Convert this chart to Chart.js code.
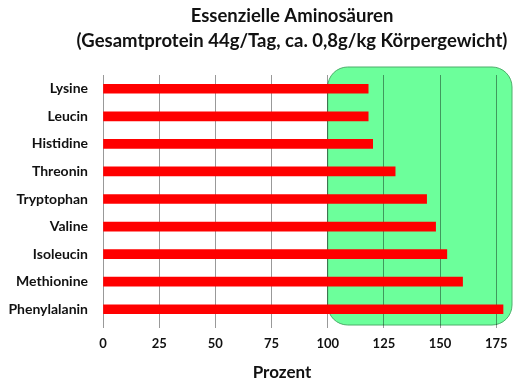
<!DOCTYPE html>
<html>
<head>
<meta charset="utf-8">
<script src="https://cdn.jsdelivr.net/npm/chart.js@4/dist/chart.umd.min.js"></script>
<style>
  body { margin: 0; background: #fff; }
  #wrap { width: 526px; height: 390px; }
</style>
</head>
<body>
<div id="wrap"><canvas id="chart"></canvas></div>
<script>
// Daten
const aminosaeuren = ["Lysine", "Leucin", "Histidine", "Threonin", "Tryptophan", "Valine", "Isoleucin", "Methionine", "Phenylalanin"];
const prozent = [118, 118, 120, 130, 144, 148, 153, 160, 178];
const xTicks = [0, 25, 50, 75, 100, 125, 150, 175];
const titel = ["Essenzielle Aminosäuren", "(Gesamtprotein 44g/Tag, ca. 0,8g/kg Körpergewicht)"];
const achsenTitel = "Prozent";
const zielBereichAb = 100;

const FONT = "Lato, 'Open Sans', sans-serif";

// grüner Bereich (>= 100%) hinter den Balken
const zielBereich = {
  id: "zielBereich",
  beforeDraw(chart) {
    const { ctx, chartArea, scales } = chart;
    const x0 = scales.x.getPixelForValue(zielBereichAb);
    const x1 = chartArea.right;
    const y0 = chartArea.top - 8;
    const y1 = chartArea.bottom + 2;
    ctx.save();
    ctx.beginPath();
    ctx.roundRect(x0, y0, x1 - x0, y1 - y0, 20);
    ctx.fillStyle = "#6cff9b";
    ctx.fill();
    ctx.lineWidth = 1;
    ctx.strokeStyle = "#4dae6b";
    ctx.stroke();
    ctx.restore();
  },
};

// Titel und Achsentitel
const texte = {
  id: "texte",
  afterDraw(chart) {
    const ctx = chart.ctx;
    ctx.save();
    ctx.fillStyle = "#111";
    ctx.textAlign = "center";
    ctx.textBaseline = "middle";
    ctx.font = "bold 18.5px " + FONT;
    ctx.fillText(titel[0], 292, 16);
    ctx.fillText(titel[1], 292, 41);
    ctx.font = "bold 17px " + FONT;
    ctx.fillText(achsenTitel, 282, 373);
    ctx.restore();
  },
};

new Chart(document.getElementById("chart"), {
  type: "bar",
  data: {
    labels: aminosaeuren,
    datasets: [
      {
        data: prozent,
        backgroundColor: "#ff0000",
        borderWidth: 0,
        barThickness: 9,
      },
    ],
  },
  options: {
    indexAxis: "y",
    responsive: true,
    maintainAspectRatio: false,
    animation: false,
    layout: { padding: { top: 75, right: 14, bottom: 0, left: 0 } },
    plugins: {
      legend: { display: false },
      title: { display: false },
      tooltip: { enabled: false },
    },
    scales: {
      x: {
        min: 0,
        max: 182,
        afterBuildTicks(scale) {
          scale.ticks = xTicks.map((v) => ({ value: v }));
        },
        afterFit(scale) {
          scale.height = 67;
        },
        grid: {
          color: "rgba(0,0,0,0.4)",
          drawTicks: true,
          tickLength: 5,
        },
        border: { display: false },
        ticks: {
          color: "#111",
          padding: 8,
          maxRotation: 0,
          font: { family: FONT, size: 13, weight: "bold" },
        },
      },
      y: {
        afterFit(scale) {
          scale.width = 103;
        },
        grid: { display: false, drawTicks: false },
        border: { display: false },
        ticks: {
          color: "#111",
          padding: 15,
          font: { family: FONT, size: 14, weight: "bold" },
        },
      },
    },
  },
  plugins: [zielBereich, texte],
});
</script>
</body>
</html>
